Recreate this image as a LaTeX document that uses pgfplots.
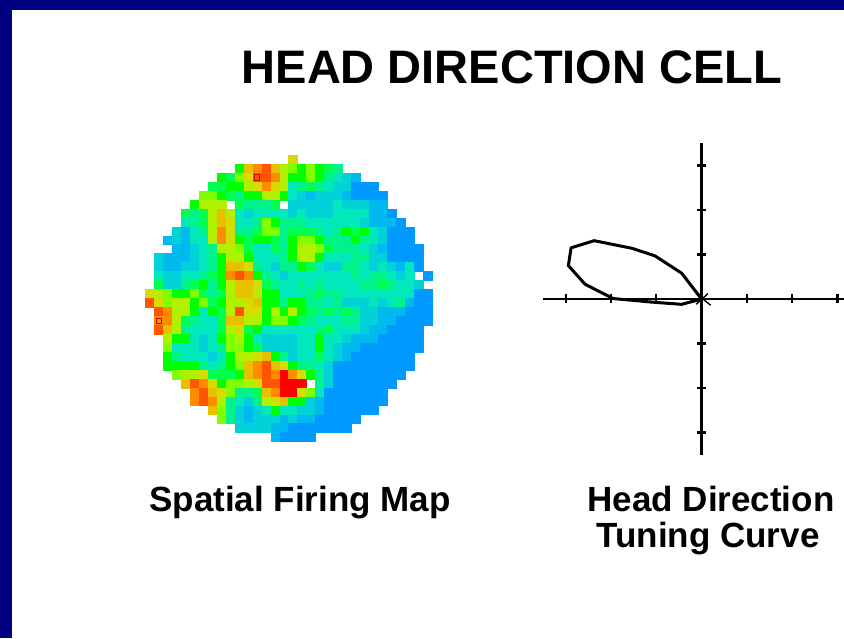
\documentclass[border=0pt]{standalone}
\usepackage{pgfplots}
\pgfplotsset{compat=1.18}
\usepackage{fontspec}
\setmainfont{Liberation Sans}
\definecolor{navy}{RGB}{0,0,128}
\pgfplotsset{colormap={firing}{rgb255=(0,153,255) rgb255=(0,185,238) rgb255=(0,210,215) rgb255=(0,232,188) rgb255=(0,242,140) rgb255=(0,255,80) rgb255=(0,255,0) rgb255=(128,255,0) rgb255=(176,240,0) rgb255=(212,220,0) rgb255=(232,192,0) rgb255=(255,140,0) rgb255=(255,85,0) rgb255=(255,0,0)}}
\pgfplotstableread[row sep=\\]{
x y z\\
16 0 10\\
10 1 7\\ 11 1 11\\ 12 1 12\\ 13 1 13\\ 14 1 11\\ 15 1 9\\ 16 1 8\\ 17 1 7\\ 18 1 8\\ 19 1 7\\ 20 1 6\\ 21 1 5\\
8 2 7\\ 9 2 6\\ 10 2 8\\ 11 2 10\\ 12 2 13\\ 13 2 13\\ 14 2 12\\ 15 2 9\\ 16 2 7\\ 17 2 7\\ 18 2 8\\ 19 2 7\\ 20 2 5\\ 21 2 4\\ 22 2 3\\ 23 2 2\\
7 3 6\\ 8 3 6\\ 9 3 7\\ 10 3 7\\ 11 3 9\\ 12 3 10\\ 13 3 12\\ 14 3 10\\ 15 3 9\\ 16 3 4\\ 17 3 5\\ 18 3 6\\ 19 3 5\\ 20 3 4\\ 21 3 3\\ 22 3 3\\ 23 3 1\\ 24 3 1\\ 25 3 1\\
6 4 8\\ 7 4 8\\ 8 4 7\\ 9 4 6\\ 10 4 5\\ 11 4 7\\ 12 4 7\\ 13 4 9\\ 14 4 9\\ 15 4 7\\ 16 4 4\\ 17 4 3\\ 18 4 2\\ 19 4 3\\ 20 4 3\\ 21 4 3\\ 22 4 2\\ 23 4 1\\ 24 4 1\\ 25 4 1\\ 26 4 1\\
5 5 7\\ 6 5 9\\ 7 5 9\\ 8 5 9\\ 10 5 6\\ 11 5 5\\ 12 5 5\\ 13 5 5\\ 14 5 6\\ 16 5 3\\ 17 5 3\\ 18 5 3\\ 19 5 3\\ 20 5 3\\ 21 5 4\\ 22 5 3\\ 23 5 3\\ 24 5 3\\ 25 5 2\\ 26 5 2\\
4 6 6\\ 5 6 5\\ 6 6 6\\ 7 6 9\\ 8 6 11\\ 9 6 9\\ 10 6 4\\ 11 6 3\\ 12 6 4\\ 13 6 4\\ 14 6 4\\ 15 6 4\\ 16 6 3\\ 17 6 4\\ 18 6 3\\ 19 6 3\\ 20 6 3\\ 21 6 4\\ 22 6 4\\ 23 6 4\\ 24 6 4\\ 25 6 2\\ 26 6 2\\ 27 6 1\\
4 7 4\\ 5 7 5\\ 6 7 6\\ 7 7 9\\ 8 7 11\\ 9 7 10\\ 10 7 4\\ 11 7 4\\ 12 7 5\\ 13 7 8\\ 14 7 7\\ 15 7 5\\ 16 7 5\\ 17 7 5\\ 18 7 4\\ 19 7 4\\ 20 7 4\\ 21 7 4\\ 22 7 4\\ 23 7 4\\ 24 7 3\\ 25 7 2\\ 26 7 2\\ 27 7 2\\ 28 7 1\\
3 8 3\\ 4 8 2\\ 5 8 4\\ 6 8 5\\ 7 8 9\\ 8 8 12\\ 9 8 10\\ 10 8 5\\ 11 8 5\\ 12 8 6\\ 13 8 8\\ 14 8 8\\ 15 8 5\\ 16 8 6\\ 17 8 6\\ 18 8 6\\ 19 8 5\\ 20 8 4\\ 21 8 5\\ 22 8 7\\ 23 8 6\\ 24 8 7\\ 25 8 4\\ 26 8 3\\ 27 8 1\\ 28 8 1\\ 29 8 1\\
2 9 2\\ 3 9 3\\ 4 9 2\\ 5 9 4\\ 6 9 4\\ 7 9 9\\ 8 9 12\\ 9 9 10\\ 10 9 7\\ 11 9 6\\ 12 9 7\\ 13 9 7\\ 14 9 6\\ 15 9 5\\ 16 9 7\\ 17 9 8\\ 18 9 8\\ 19 9 7\\ 20 9 5\\ 21 9 5\\ 22 9 5\\ 23 9 7\\ 24 9 5\\ 25 9 4\\ 26 9 3\\ 27 9 1\\ 28 9 1\\ 29 9 1\\
3 10 2\\ 4 10 2\\ 5 10 3\\ 6 10 4\\ 7 10 5\\ 8 10 9\\ 9 10 9\\ 10 10 8\\ 11 10 6\\ 12 10 4\\ 13 10 4\\ 14 10 6\\ 15 10 5\\ 16 10 7\\ 17 10 9\\ 18 10 9\\ 19 10 8\\ 20 10 6\\ 21 10 5\\ 22 10 5\\ 23 10 5\\ 24 10 4\\ 25 10 3\\ 26 10 2\\ 27 10 1\\ 28 10 1\\ 29 10 1\\ 30 10 1\\
1 11 3\\ 2 11 2\\ 3 11 2\\ 4 11 2\\ 5 11 3\\ 6 11 4\\ 7 11 5\\ 8 11 7\\ 9 11 9\\ 10 11 9\\ 11 11 7\\ 12 11 4\\ 13 11 4\\ 14 11 4\\ 15 11 5\\ 16 11 7\\ 17 11 9\\ 18 11 9\\ 19 11 7\\ 20 11 4\\ 21 11 4\\ 22 11 4\\ 23 11 5\\ 24 11 5\\ 25 11 3\\ 26 11 3\\ 27 11 1\\ 28 11 1\\ 29 11 1\\ 30 11 1\\
1 12 3\\ 2 12 2\\ 3 12 2\\ 4 12 3\\ 5 12 3\\ 6 12 4\\ 7 12 5\\ 8 12 7\\ 9 12 11\\ 10 12 11\\ 11 12 10\\ 12 12 5\\ 13 12 4\\ 14 12 3\\ 15 12 5\\ 16 12 5\\ 17 12 7\\ 18 12 6\\ 19 12 4\\ 20 12 3\\ 21 12 3\\ 22 12 5\\ 23 12 5\\ 24 12 4\\ 25 12 3\\ 26 12 4\\ 27 12 3\\ 28 12 2\\ 29 12 4\\ 30 12 1\\
1 13 4\\ 2 13 3\\ 3 13 3\\ 4 13 4\\ 5 13 4\\ 6 13 5\\ 7 13 6\\ 8 13 7\\ 9 13 12\\ 10 13 13\\ 11 13 12\\ 12 13 7\\ 13 13 5\\ 14 13 4\\ 15 13 3\\ 16 13 4\\ 17 13 4\\ 18 13 4\\ 19 13 4\\ 20 13 4\\ 21 13 4\\ 22 13 4\\ 23 13 5\\ 24 13 4\\ 25 13 5\\ 26 13 5\\ 27 13 4\\ 28 13 3\\ 29 13 4\\ 31 13 1\\
1 14 6\\ 2 14 3\\ 3 14 3\\ 4 14 5\\ 5 14 6\\ 6 14 7\\ 7 14 5\\ 8 14 7\\ 9 14 9\\ 10 14 11\\ 11 14 11\\ 12 14 10\\ 13 14 6\\ 14 14 5\\ 15 14 4\\ 16 14 4\\ 17 14 5\\ 18 14 4\\ 19 14 5\\ 20 14 4\\ 21 14 4\\ 22 14 4\\ 23 14 4\\ 24 14 5\\ 25 14 5\\ 26 14 6\\ 27 14 5\\ 28 14 4\\ 29 14 4\\ 30 14 3\\
0 15 10\\ 1 15 9\\ 2 15 8\\ 3 15 7\\ 4 15 7\\ 5 15 8\\ 6 15 6\\ 7 15 5\\ 8 15 6\\ 9 15 9\\ 10 15 11\\ 11 15 11\\ 12 15 9\\ 13 15 7\\ 14 15 7\\ 15 15 4\\ 16 15 4\\ 17 15 4\\ 18 15 5\\ 19 15 6\\ 20 15 5\\ 21 15 5\\ 22 15 4\\ 23 15 4\\ 24 15 4\\ 25 15 4\\ 26 15 4\\ 27 15 4\\ 28 15 4\\ 29 15 4\\ 30 15 1\\ 31 15 1\\
0 16 13\\ 1 16 10\\ 2 16 8\\ 3 16 9\\ 4 16 9\\ 5 16 7\\ 6 16 8\\ 7 16 6\\ 8 16 7\\ 9 16 9\\ 10 16 9\\ 11 16 10\\ 12 16 11\\ 13 16 7\\ 14 16 7\\ 15 16 5\\ 16 16 7\\ 17 16 7\\ 18 16 5\\ 19 16 5\\ 20 16 4\\ 21 16 5\\ 22 16 3\\ 23 16 3\\ 24 16 3\\ 25 16 4\\ 26 16 3\\ 27 16 4\\ 28 16 5\\ 29 16 2\\ 30 16 1\\ 31 16 1\\
1 17 13\\ 2 17 12\\ 3 17 9\\ 4 17 9\\ 5 17 7\\ 6 17 4\\ 7 17 7\\ 8 17 6\\ 9 17 9\\ 10 17 13\\ 11 17 10\\ 12 17 10\\ 13 17 7\\ 14 17 9\\ 15 17 7\\ 16 17 9\\ 17 17 7\\ 18 17 6\\ 19 17 5\\ 20 17 6\\ 21 17 5\\ 22 17 6\\ 23 17 5\\ 24 17 3\\ 25 17 3\\ 26 17 2\\ 27 17 2\\ 28 17 2\\ 29 17 1\\ 30 17 1\\ 31 17 1\\
1 18 12\\ 2 18 12\\ 3 18 9\\ 4 18 6\\ 5 18 5\\ 6 18 4\\ 7 18 4\\ 8 18 6\\ 9 18 11\\ 10 18 11\\ 11 18 9\\ 12 18 9\\ 13 18 7\\ 14 18 8\\ 15 18 8\\ 16 18 7\\ 17 18 6\\ 18 18 5\\ 19 18 4\\ 20 18 4\\ 21 18 4\\ 22 18 5\\ 23 18 5\\ 24 18 3\\ 25 18 3\\ 26 18 2\\ 27 18 2\\ 28 18 1\\ 29 18 1\\ 30 18 1\\ 31 18 1\\
1 19 13\\ 2 19 11\\ 3 19 9\\ 4 19 5\\ 5 19 4\\ 6 19 4\\ 7 19 4\\ 8 19 6\\ 9 19 9\\ 10 19 10\\ 11 19 6\\ 12 19 7\\ 13 19 4\\ 14 19 4\\ 15 19 4\\ 16 19 4\\ 17 19 4\\ 18 19 4\\ 19 19 5\\ 20 19 6\\ 21 19 4\\ 22 19 4\\ 23 19 4\\ 24 19 3\\ 25 19 2\\ 26 19 2\\ 27 19 1\\ 28 19 1\\ 29 19 1\\ 30 19 1\\
2 20 9\\ 3 20 7\\ 4 20 7\\ 5 20 4\\ 6 20 3\\ 7 20 4\\ 8 20 7\\ 9 20 8\\ 10 20 9\\ 11 20 7\\ 12 20 4\\ 13 20 3\\ 14 20 3\\ 15 20 3\\ 16 20 3\\ 17 20 4\\ 18 20 4\\ 19 20 7\\ 20 20 4\\ 21 20 4\\ 22 20 3\\ 23 20 2\\ 24 20 2\\ 25 20 2\\ 26 20 1\\ 27 20 1\\ 28 20 1\\ 29 20 1\\ 30 20 1\\
2 21 8\\ 3 21 4\\ 4 21 4\\ 5 21 4\\ 6 21 3\\ 7 21 4\\ 8 21 5\\ 9 21 8\\ 10 21 8\\ 11 21 7\\ 12 21 6\\ 13 21 3\\ 14 21 3\\ 15 21 3\\ 16 21 3\\ 17 21 4\\ 18 21 4\\ 19 21 7\\ 20 21 4\\ 21 21 3\\ 22 21 2\\ 23 21 2\\ 24 21 1\\ 25 21 1\\ 26 21 1\\ 27 21 1\\ 28 21 1\\ 29 21 1\\ 30 21 1\\
2 22 7\\ 3 22 5\\ 4 22 4\\ 5 22 4\\ 6 22 4\\ 7 22 3\\ 8 22 4\\ 9 22 7\\ 10 22 9\\ 11 22 9\\ 12 22 10\\ 13 22 11\\ 14 22 7\\ 15 22 5\\ 16 22 3\\ 17 22 4\\ 18 22 4\\ 19 22 6\\ 20 22 4\\ 21 22 3\\ 22 22 2\\ 23 22 1\\ 24 22 1\\ 25 22 1\\ 26 22 1\\ 27 22 1\\ 28 22 1\\ 29 22 1\\
2 23 7\\ 3 23 7\\ 4 23 7\\ 5 23 7\\ 6 23 5\\ 7 23 4\\ 8 23 5\\ 9 23 7\\ 10 23 8\\ 11 23 11\\ 12 23 12\\ 13 23 13\\ 14 23 11\\ 15 23 10\\ 16 23 7\\ 17 23 5\\ 18 23 5\\ 19 23 4\\ 20 23 3\\ 21 23 1\\ 22 23 1\\ 23 23 1\\ 24 23 1\\ 25 23 1\\ 26 23 1\\ 27 23 1\\ 28 23 1\\ 29 23 1\\
3 24 8\\ 4 24 9\\ 5 24 9\\ 6 24 10\\ 7 24 6\\ 8 24 6\\ 9 24 6\\ 10 24 7\\ 11 24 11\\ 12 24 12\\ 13 24 13\\ 14 24 12\\ 15 24 14\\ 16 24 12\\ 17 24 10\\ 18 24 7\\ 19 24 5\\ 20 24 3\\ 21 24 1\\ 22 24 1\\ 23 24 1\\ 24 24 1\\ 25 24 1\\ 26 24 1\\ 27 24 1\\ 28 24 1\\
4 25 11\\ 5 25 13\\ 6 25 12\\ 7 25 10\\ 8 25 7\\ 9 25 8\\ 10 25 8\\ 11 25 9\\ 12 25 10\\ 13 25 13\\ 14 25 13\\ 15 25 14\\ 16 25 14\\ 17 25 14\\ 19 25 5\\ 20 25 3\\ 21 25 1\\ 22 25 1\\ 23 25 1\\ 24 25 1\\ 25 25 1\\ 26 25 1\\ 27 25 1\\
5 26 12\\ 6 26 13\\ 7 26 11\\ 8 26 10\\ 9 26 8\\ 10 26 5\\ 11 26 5\\ 12 26 6\\ 13 26 11\\ 14 26 12\\ 15 26 14\\ 16 26 14\\ 17 26 10\\ 18 26 8\\ 19 26 4\\ 20 26 1\\ 21 26 1\\ 22 26 1\\ 23 26 1\\ 24 26 1\\ 25 26 1\\ 26 26 1\\
5 27 12\\ 6 27 13\\ 7 27 12\\ 8 27 9\\ 9 27 5\\ 10 27 4\\ 11 27 3\\ 12 27 5\\ 13 27 9\\ 14 27 10\\ 15 27 11\\ 16 27 7\\ 17 27 7\\ 18 27 3\\ 19 27 2\\ 20 27 1\\ 21 27 1\\ 22 27 1\\ 23 27 1\\ 24 27 1\\ 25 27 1\\ 26 27 1\\
7 28 11\\ 8 28 8\\ 9 28 5\\ 10 28 3\\ 11 28 2\\ 12 28 3\\ 13 28 4\\ 14 28 7\\ 15 28 4\\ 16 28 4\\ 17 28 3\\ 18 28 3\\ 19 28 2\\ 20 28 1\\ 21 28 1\\ 22 28 1\\ 23 28 1\\ 24 28 1\\ 25 28 1\\
8 29 8\\ 9 29 5\\ 10 29 3\\ 11 29 2\\ 12 29 3\\ 13 29 3\\ 14 29 3\\ 15 29 2\\ 16 29 3\\ 17 29 2\\ 18 29 2\\ 19 29 1\\ 20 29 1\\ 21 29 1\\ 22 29 1\\ 23 29 1\\
10 30 3\\ 11 30 3\\ 12 30 3\\ 13 30 3\\ 14 30 2\\ 15 30 2\\ 16 30 1\\ 17 30 1\\ 18 30 1\\ 19 30 1\\ 20 30 1\\ 21 30 1\\ 22 30 1\\
14 31 2\\ 15 31 1\\ 16 31 1\\ 17 31 1\\ 18 31 1\\
}\firingmap
\begin{document}
\begin{tikzpicture}[x=1pt,y=1pt]
\path[use as bounding box] (0,0) rectangle (844,638);
\clip (0,0) rectangle (844,638);
\fill[navy] (0,0) rectangle (844,638);
\fill[white] (12,0) rectangle (844,628);
\node[font=\fontsize{47}{50}\selectfont\bfseries] at (512,571) {HEAD DIRECTION CELL};
\node[anchor=base,font=\fontsize{35}{38}\selectfont\bfseries] at (300,127) {Spatial Firing Map};
\node[anchor=base,font=\fontsize{35}{38}\selectfont\bfseries] at (711,127) {Head Direction};
\node[anchor=base,font=\fontsize{35}{38}\selectfont\bfseries] at (708,91) {Tuning Curve};
\begin{axis}[at={(145.3pt,196.6pt)},anchor=south west,scale only axis,width=286.4pt,height=286.4pt,
  xmin=-0.5,xmax=31.5,ymin=-0.5,ymax=31.5,y dir=reverse,hide axis,clip=false,
  point meta min=1,point meta max=14]
\addplot[scatter,only marks,mark=square*,mark size=4.4pt,scatter src=explicit,scatter/use mapped color={draw=mapped color,fill=mapped color},mark options={line width=0.2pt}] table[x=x,y=y,meta=z] {\firingmap};
\addplot[only marks,mark=square,mark size=2.6pt,mark options={draw=red!85!black,line width=0.8pt}] coordinates {(12,2) (1,18)};
\end{axis}
\begin{axis}[at={(543pt,183pt)},anchor=south west,scale only axis,width=300.8pt,height=312pt,
  xmin=-3.50,xmax=3.14,ymin=-3.505,ymax=3.505,axis lines=middle,clip=false,
  axis line style={-,line width=2.8pt,black},xtick={-3,-2,-1,1,2,3},ytick={-3,-2,-1,1,2,3},
  xticklabels={},yticklabels={},tick style={black,line width=2.2pt},major tick length=9pt,tick align=center]
\addplot[black,line width=3pt,line join=round] coordinates {(0,0) (-0.44,0.58) (-1.03,0.97) (-1.54,1.14) (-2.37,1.31) (-2.88,1.15) (-2.94,0.75) (-2.57,0.33) (-1.95,0.01) (-1.10,-0.07) (-0.44,-0.12) (-0.07,-0.02) (0,0)};
\addplot[black,line width=1.4pt] coordinates {(-0.12,-0.12) (0.14,0.12)};
\addplot[black,line width=1.4pt] coordinates {(-0.12,0.12) (0.2,-0.14)};
\end{axis}
\end{tikzpicture}
\end{document}
